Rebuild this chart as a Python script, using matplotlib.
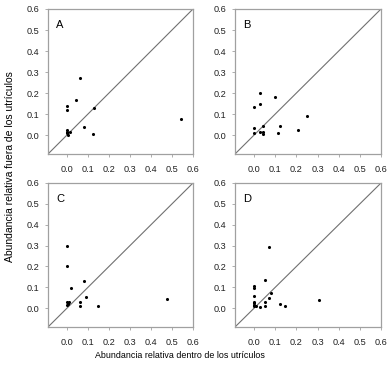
import matplotlib
matplotlib.use("Agg")
import matplotlib.pyplot as plt

plt.rcParams['font.family'] = ['Liberation Sans', 'DejaVu Sans']

panel_labels = ["A", "B", "C", "D"]

# Abundance inside utricles (x) and outside (y)
a_x = [0.062, 0.041, 0.000, 0.000, 0.130, 0.543, 0.083, 0.124, 0.000, 0.000, 0.000, 0.003, 0.015]
a_y = [0.273, 0.165, 0.138, 0.121, 0.127, 0.078, 0.038, 0.006, 0.024, 0.016, 0.008, 0.002, 0.016]

b_x = [0.028, 0.028, 0.000, 0.097, 0.248, 0.000, 0.000, 0.044, 0.028, 0.044, 0.044, 0.122, 0.114, 0.210]
b_y = [0.200, 0.150, 0.133, 0.183, 0.092, 0.033, 0.008, 0.041, 0.017, 0.014, 0.006, 0.041, 0.008, 0.025]

c_x = [0.000, 0.000, 0.019, 0.079, 0.090, 0.000, 0.010, 0.000, 0.006, 0.060, 0.060, 0.149, 0.476]
c_y = [0.300, 0.200, 0.099, 0.130, 0.056, 0.029, 0.029, 0.014, 0.022, 0.029, 0.013, 0.013, 0.043]

d_x = [0.072, 0.053, 0.000, 0.000, 0.000, 0.000, 0.000, 0.000, 0.000, 0.010, 0.028, 0.053, 0.053, 0.072, 0.080, 0.125, 0.144, 0.307]
d_y = [0.293, 0.134, 0.107, 0.096, 0.057, 0.032, 0.024, 0.016, 0.010, 0.011, 0.008, 0.030, 0.013, 0.051, 0.073, 0.019, 0.013, 0.040]

series = [(a_x, a_y), (b_x, b_y), (c_x, c_y), (d_x, d_y)]
ticks = [0.0, 0.1, 0.2, 0.3, 0.4, 0.5, 0.6]
tick_labels = ["0.0", "0.1", "0.2", "0.3", "0.4", "0.5", "0.6"]
lo, hi = -0.09, 0.6

W, H = 392, 374
fig = plt.figure(figsize=(W / 100, H / 100), dpi=100)

# panel boxes in pixels: left, top, right, bottom
boxes = [(48, 9, 193, 154), (235, 9, 381, 154), (48, 183, 193, 327), (235, 183, 381, 327)]
frame_col = "#a0a0a0"

for (l, t, r, b), (xs, ys), lab in zip(boxes, series, panel_labels):
    ax = fig.add_axes([l / W, 1 - b / H, (r - l) / W, (b - t) / H])
    ax.set_xlim(lo, hi)
    ax.set_ylim(lo, hi)
    ax.plot([lo, hi], [lo, hi], color="#707070", lw=0.8)
    ax.scatter(xs, ys, s=5, color="black", zorder=3, linewidths=0)
    ax.set_xticks(ticks)
    ax.set_xticklabels(tick_labels)
    ax.set_yticks(ticks)
    ax.set_yticklabels(tick_labels)
    ax.tick_params(direction="out", length=2, width=0.6, color=frame_col,
                   labelsize=6.6, labelcolor="#222222")
    ax.tick_params(axis="x", pad=6)
    ax.tick_params(axis="y", pad=4.5)
    for sp in ax.spines.values():
        sp.set_color(frame_col)
        sp.set_linewidth(0.9)
    ax.text(0.055, 0.925, lab, transform=ax.transAxes, fontsize=8, va="top", ha="left")

fig.text(180 / W, 1 - 355 / H, "Abundancia relativa dentro de los utrículos",
         ha="center", va="center", fontsize=6.4)
fig.text(10 / W, 1 - 167 / H, "Abundancia relativa fuera de los utrículos",
         ha="center", va="center", rotation=90, fontsize=7.5)

fig.savefig("out.png", dpi=100)
